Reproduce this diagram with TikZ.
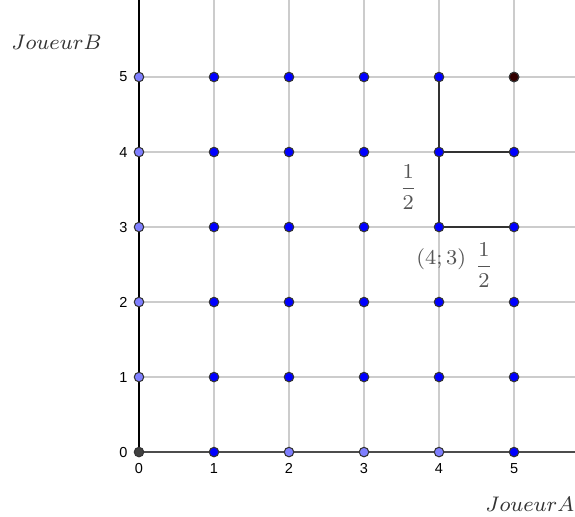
\documentclass[tikz,border=0pt]{standalone}
\usepackage{fontspec}
\usepackage{amsmath}
\newfontfamily\ticksf{Liberation Sans}
\usetikzlibrary{positioning}
\definecolor{Dot}{HTML}{0000FF}
\definecolor{DotLight}{HTML}{7F7FFF}
\definecolor{DotOrigin}{HTML}{404040}
\definecolor{DotCorner}{HTML}{330000}
\definecolor{Grid}{HTML}{CCCCCC}
\definecolor{Rim}{HTML}{333333}
\definecolor{Ink}{HTML}{555555}
\tikzset{
  pt/.style={circle,draw=Rim,line width=0.4pt,inner sep=0pt,minimum size=3.6pt,fill=#1},
  ticklab/.style={font=\ticksf\fontsize{5.5}{6}\selectfont,inner sep=1pt},
  mathlab/.style={font=\fontsize{8.5}{10}\selectfont,text=Ink,inner sep=0pt},
}

\begin{document}
\begin{tikzpicture}[x=1cm,y=1cm]
\path[use as bounding box] (-1.853,-0.853) rectangle (5.813,6.027);

% grid
\foreach \k in {1,...,5}{
  \draw[Grid,line width=0.45pt] (\k,0) -- (\k,6.027);
  \draw[Grid,line width=0.45pt] (0,\k) -- (5.813,\k);
}
\draw[line width=0.8pt,draw=black!70] (0,0) -- (5.813,0);
\draw[line width=0.8pt,draw=black] (0,0) -- (0,6.027);

% points
\foreach \x in {1,...,5}
  \foreach \y in {1,...,5}
    \node[pt=Dot] (p\x\y) at (\x,\y) {};
\foreach \x/\y/\col in {0/0/DotOrigin,1/0/Dot,2/0/DotLight,3/0/DotLight,4/0/DotLight,5/0/Dot,
  0/1/DotLight,0/2/DotLight,0/3/DotLight,0/4/DotLight,0/5/DotLight,5/5/DotCorner}
  \node[pt=\col] (p\x\y) at (\x,\y) {};

% moves from (4;3)
\draw[line width=0.7pt,Rim] (p45) -- (p44) -- (p43);
\draw[line width=0.7pt,Rim] (p44) -- (p54);
\draw[line width=0.7pt,Rim] (p43) -- (p53);

% tick labels
\foreach \k in {0,...,5}{
  \node[ticklab,left=1.2pt of p0\k] (ty\k) {\k};
  \node[ticklab,below=1.2pt of p\k0] (tx\k) {\k};
}

\node[mathlab] (half1) at (3.59,3.53) {$\dfrac{1}{2}$};
\node[mathlab] (start) at (4.03,2.57) {$(4;3)$};
\node[mathlab] (half2) at (4.6,2.49) {$\dfrac{1}{2}$};
\node[mathlab,text=black!80] (jb) at (-1.1,5.46) {$JoueurB$};
\node[mathlab,text=black!80] (ja) at (5.21,-0.7) {$JoueurA$};
\end{tikzpicture}
\end{document}
